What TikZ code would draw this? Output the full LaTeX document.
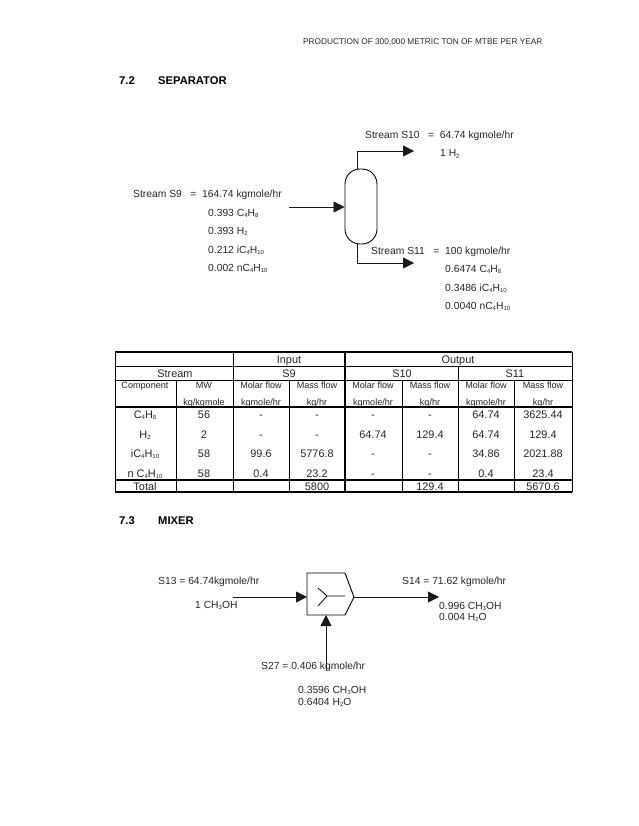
\documentclass[tikz,border=0pt]{standalone}
\usepackage{fontspec}
\setmainfont{Liberation Sans}
\usetikzlibrary{arrows.meta}
\newcommand\sbs[1]{\raisebox{-1.4pt}{\fontsize{6}{6}\selectfont #1}}
\tikzset{
  lab/.style={anchor=base west,inner sep=0pt,text=black!85,font=\fontsize{10.3}{12}\selectfont},
  head/.style={anchor=base west,inner sep=0pt,text=black!85,font=\fontsize{8.3}{10}\selectfont},
  sect/.style={anchor=base west,inner sep=0pt,font=\fontsize{11.2}{13}\selectfont\bfseries},
  cellbig/.style={anchor=base,inner sep=0pt,text=black!85,font=\fontsize{10.9}{13}\selectfont},
  cellsmall/.style={anchor=base,inner sep=0pt,text=black!85,font=\fontsize{9.1}{11}\selectfont},
  flow/.style={line width=0.8pt,draw=black!90,-{Triangle[length=11pt,width=11pt]}},
  equip/.style={line width=0.9pt,draw=black},
  thinrule/.style={line width=0.9pt,draw=black},
  thickrule/.style={line width=1.8pt,draw=black},
}
\begin{document}
\begin{tikzpicture}[x=1pt,y=1pt]
\useasboundingbox (0,0) rectangle (638,-826);
\fill[white] (0,0) rectangle (638,-826);
\node[head] (hdr) at (303,-45) {PRODUCTION OF 300,000 METRIC TON OF MTBE PER YEAR};
\node[sect] (s72n) at (119,-85) {7.2};
\node[sect] (s72t) at (158,-85) {SEPARATOR};
\node[sect] (s73n) at (119,-524) {7.3};
\node[sect] (s73t) at (158,-524) {MIXER};
% separator
\node[equip,draw,rounded corners=15pt,minimum width=32pt,minimum height=75pt,inner sep=0pt] (vessel) at (361,-206.5) {};
\coordinate (s9in) at (289,-207);
\coordinate (vtop) at (357,-169);
\coordinate (vbot) at (357,-244);
\coordinate (s10bend) at (357,-151);
\coordinate (s11bend) at (357,-263);
\coordinate (s10end) at (414,-151);
\coordinate (s11end) at (414,-263);
\draw[flow] (s9in) -- (s9in -| vessel.west);
\draw[flow] (vtop) -- (s10bend) -- (s10end);
\draw[flow] (vbot) -- (s11bend) -- (s11end);
\node[lab] (t10a) at (365,-139) {Stream S10\ \ \ =\ \ 64.74 kgmole/hr};
\node[lab] (t10b) at (440,-157) {1 H\sbs{2}};
\node[lab] (t9a) at (133,-198) {Stream S9\ \ \ =\ \ 164.74 kgmole/hr};
\node[lab] (t9b) at (208,-216) {0.393 C\sbs{4}H\sbs{8}};
\node[lab] (t9c) at (208,-234) {0.393 H\sbs{2}};
\node[lab] (t9d) at (208,-253) {0.212 iC\sbs{4}H\sbs{10}};
\node[lab] (t9e) at (208,-271) {0.002 nC\sbs{4}H\sbs{10}};
\node[lab] (t11a) at (371,-254) {Stream S11\ \ \ =\ \ 100 kgmole/hr};
\node[lab] (t11b) at (445,-272) {0.6474 C\sbs{4}H\sbs{8}};
\node[lab] (t11c) at (445,-291) {0.3486 iC\sbs{4}H\sbs{10}};
\node[lab] (t11d) at (445,-309) {0.0040 nC\sbs{4}H\sbs{10}};
% table rules
\draw[thinrule] (115,-366) -- (572,-366);
\draw[thinrule] (115,-380) -- (572,-380);
\draw[thickrule] (115,-352) -- (572,-352);
\draw[thickrule] (115,-407) -- (572,-407);
\draw[thickrule] (115,-480) -- (572,-480);
\draw[thickrule] (115,-492) -- (572,-492);
\draw[thinrule] (115,-352) -- (115,-492);
\draw[thinrule] (572,-352) -- (572,-492);
\draw[thinrule] (176,-380) -- (176,-492);
\draw[thinrule] (233,-352) -- (233,-492);
\draw[thinrule] (289,-380) -- (289,-492);
\draw[thickrule] (345,-352) -- (345,-492);
\draw[thinrule] (402,-380) -- (402,-492);
\draw[thinrule] (458,-366) -- (458,-492);
\draw[thinrule] (514,-380) -- (514,-492);
% table header
\node[cellbig] (tInput) at (289,-363) {Input};
\node[cellbig] (tOutput) at (458,-363) {Output};
\node[cellbig] (tStream) at (175,-377) {Stream};
\node[cellbig] (tS9) at (289,-377) {S9};
\node[cellbig] (tS10) at (402,-377) {S10};
\node[cellbig] (tS11) at (515,-377) {S11};
\foreach \n/\x/\a/\b in {a/145/Component/{},b/204/MW/kg\slash kgmole,c/261/Molar flow/kgmole\slash hr,d/317/Mass flow/kg\slash hr,e/373/Molar flow/kgmole\slash hr,f/430/Mass flow/kg\slash hr,g/486/Molar flow/kgmole\slash hr,h/543/Mass flow/kg\slash hr}{
  \node[cellsmall] (u\n) at (\x,-388) {\a};
  \node[cellsmall] (v\n) at (\x,-405) {\b};
}
% table body
\foreach \r/\y/\a/\b/\c/\d/\e/\f/\g/\h in {
  1/418/{C\sbs{4}H\sbs{8}}/56/-/-/-/-/64.74/3625.44,
  2/438/{H\sbs{2}}/2/-/-/64.74/129.4/64.74/129.4,
  3/457/{iC\sbs{4}H\sbs{10}}/58/99.6/5776.8/-/-/34.86/2021.88,
  4/477/{n C\sbs{4}H\sbs{10}}/58/0.4/23.2/-/-/0.4/23.4,
  5/490/Total/{}/{}/5800/{}/129.4/{}/5670.6}{
  \node[cellbig] (r\r a) at (145,-\y) {\a};
  \node[cellbig] (r\r b) at (204,-\y) {\b};
  \node[cellbig] (r\r c) at (261,-\y) {\c};
  \node[cellbig] (r\r d) at (317,-\y) {\d};
  \node[cellbig] (r\r e) at (373,-\y) {\e};
  \node[cellbig] (r\r f) at (430,-\y) {\f};
  \node[cellbig] (r\r g) at (486,-\y) {\g};
  \node[cellbig] (r\r h) at (543,-\y) {\h};
}
% mixer
\coordinate (mA) at (307,-573);
\coordinate (mB) at (345,-573);
\coordinate (mTip) at (354,-597);
\coordinate (mC) at (345,-615);
\coordinate (mD) at (307,-615);
\draw[equip] (mA) -- (mB) -- (mTip) -- (mC) -- (mD) -- cycle;
\coordinate (yC) at (327,-596);
\coordinate (yA) at (318,-588);
\coordinate (yB) at (318,-606);
\coordinate (yR) at (345,-596);
\draw[line width=0.8pt] (yA) -- (yC) -- (yB) (yC) -- (yR);
\coordinate (s13in) at (233,-597);
\coordinate (s14end) at (439,-597);
\coordinate (s27in) at (326,-670);
\coordinate (mBot) at (326,-615);
\draw[flow] (s13in) -- (mD |- s13in);
\draw[flow] (mTip) -- (s14end);
\draw[flow] (s27in) -- (mBot);
\node[lab] (m1) at (158,-584) {S13 = 64.74kgmole/hr};
\node[lab] (m2) at (195,-608) {1 CH\sbs{3}OH};
\node[lab] (m3) at (402,-584) {S14 = 71.62 kgmole/hr};
\node[lab] (m4) at (439,-609) {0.996 CH\sbs{3}OH};
\node[lab] (m5) at (439,-620) {0.004 H\sbs{2}O};
\node[lab] (m6) at (261,-669) {S27 = 0.406 kgmole/hr};
\node[lab] (m7) at (298,-693) {0.3596 CH\sbs{3}OH};
\node[lab] (m8) at (298,-705) {0.6404 H\sbs{2}O};
\end{tikzpicture}
\end{document}
